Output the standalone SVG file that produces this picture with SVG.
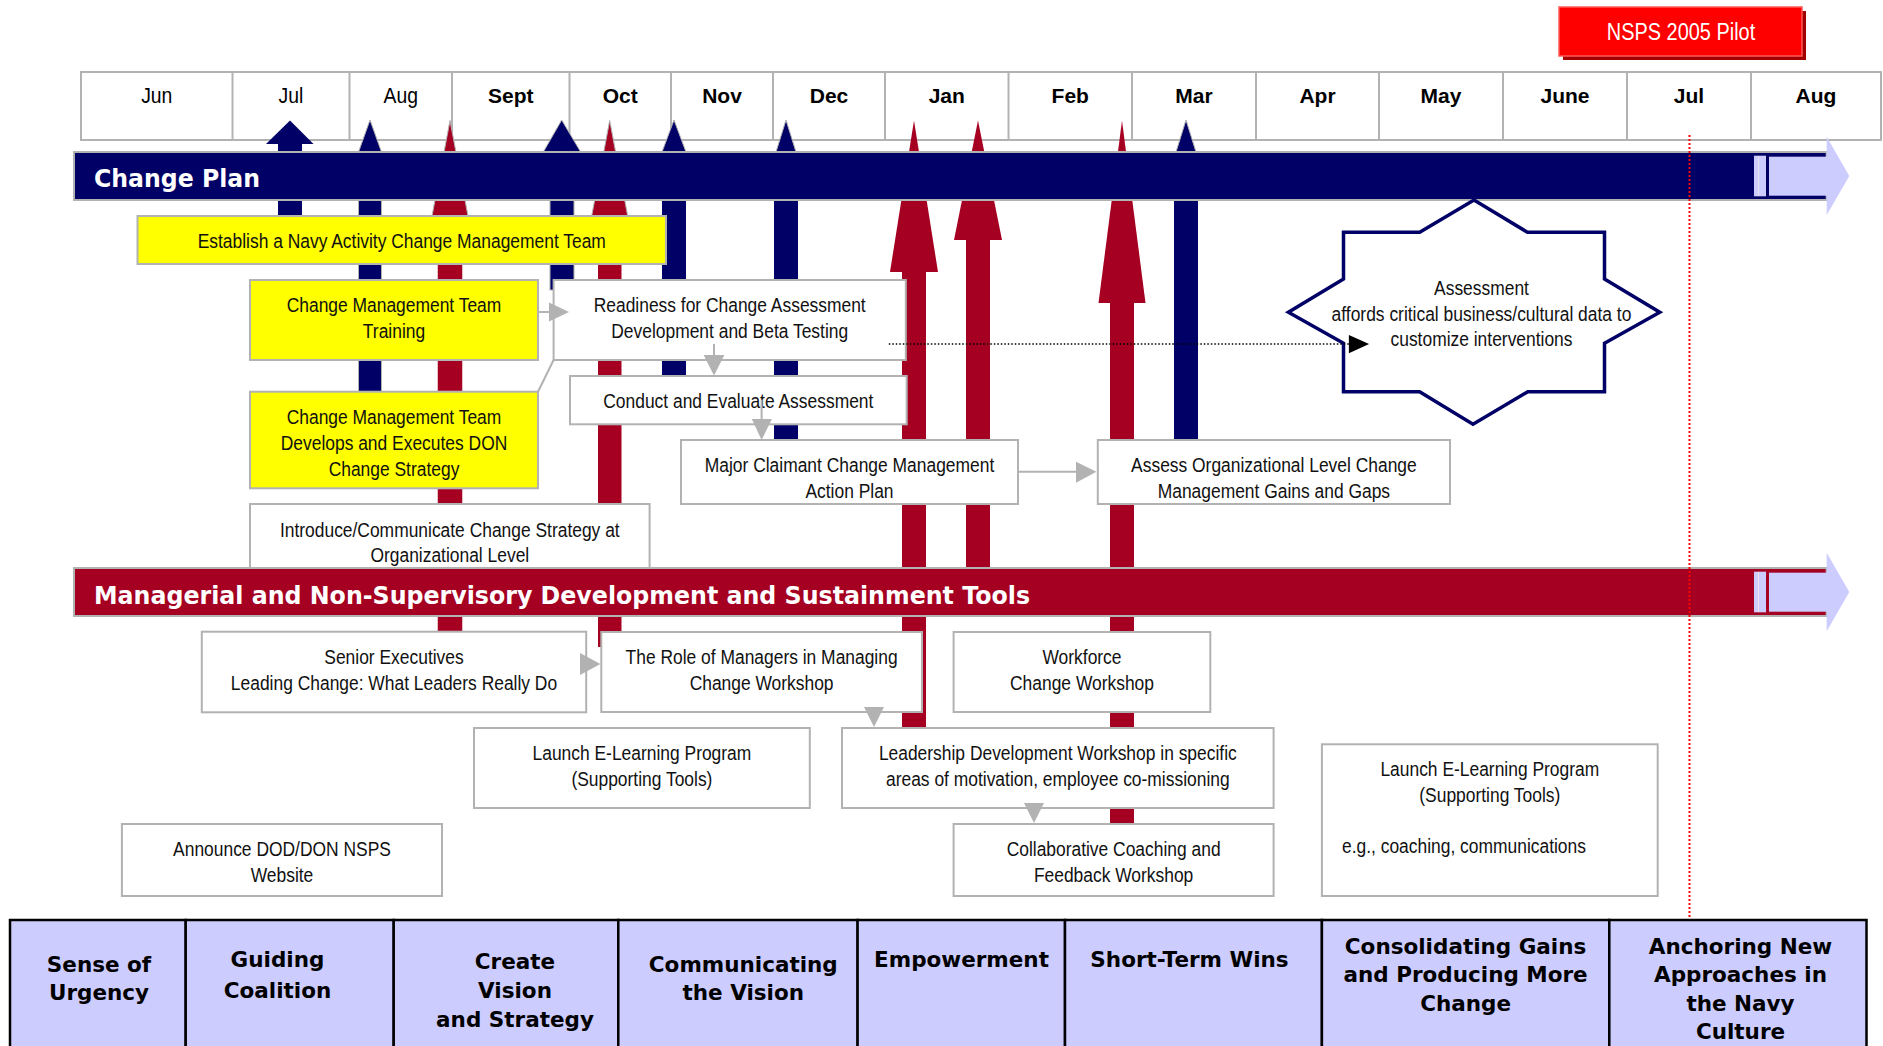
<svg xmlns="http://www.w3.org/2000/svg" width="1883" height="1046" viewBox="0 0 1883 1046">
<style>
.bg{fill:#FFFFFF}
.cell{fill:#FFFFFF;stroke:#B2B2B2;stroke-width:2}
.div{stroke:#B2B2B2;stroke-width:2}
.mo{font-family:"Liberation Sans",Arial,sans-serif;font-size:21px;fill:#000;text-anchor:middle}
.mob{font-weight:bold}
.navy{fill:#000066}
.navyo{fill:#000066;stroke:#B2B2B2;stroke-width:1}
.red{fill:#A50021}
.redo{fill:#A50021;stroke:#B2B2B2;stroke-width:1}
.lav{fill:#CCCCFF}
.bar{stroke:#B2B2B2;stroke-width:2}
.box{fill:#FFFFFF;stroke:#B2B2B2;stroke-width:2}
.ybox{fill:#FFFF00;stroke:#B2B2B2;stroke-width:2}
.n{font-family:"Liberation Sans Narrow","Liberation Sans",Arial,sans-serif;font-size:21px;fill:#111;text-anchor:middle}
.bt{font-family:"DejaVu Sans",Verdana,sans-serif;font-weight:bold;fill:#FFFFFF}
.tb{font-family:"DejaVu Sans",Verdana,sans-serif;font-weight:bold;font-size:21.5px;fill:#000;text-anchor:middle}
.tc{fill:#CCCCFF;stroke:#000;stroke-width:2.5}
.gl{stroke:#B2B2B2;stroke-width:2;fill:none}
.ga{fill:#B2B2B2}
</style>
<rect class="bg" x="0" y="0" width="1883" height="1046"/>

<g id="pilot">
<rect x="1563" y="11" width="243" height="49" fill="#A00000"/>
<rect x="1559" y="7" width="243" height="49" fill="#FF0000" stroke="#FF5A5A" stroke-width="1.5"/>
<text class="n" transform="translate(1681,0) scale(0.83,1)" x="0" y="40.5" style="font-size:24px;fill:#FFFFFF">NSPS 2005 Pilot</text>
</g>

<g id="timeline">
<rect class="cell" x="81" y="72" width="1800" height="68"/>
<line class="div" x1="232.5" y1="72" x2="232.5" y2="140"/>
<line class="div" x1="349.5" y1="72" x2="349.5" y2="140"/>
<line class="div" x1="452" y1="72" x2="452" y2="140"/>
<line class="div" x1="569.5" y1="72" x2="569.5" y2="140"/>
<line class="div" x1="671" y1="72" x2="671" y2="140"/>
<line class="div" x1="773" y1="72" x2="773" y2="140"/>
<line class="div" x1="885" y1="72" x2="885" y2="140"/>
<line class="div" x1="1008.5" y1="72" x2="1008.5" y2="140"/>
<line class="div" x1="1132" y1="72" x2="1132" y2="140"/>
<line class="div" x1="1256" y1="72" x2="1256" y2="140"/>
<line class="div" x1="1379" y1="72" x2="1379" y2="140"/>
<line class="div" x1="1503" y1="72" x2="1503" y2="140"/>
<line class="div" x1="1627" y1="72" x2="1627" y2="140"/>
<line class="div" x1="1751" y1="72" x2="1751" y2="140"/>
<text class="mo" transform="translate(156.75,0) scale(0.88,1)" x="0" y="103" style="font-size:22px">Jun</text>
<text class="mo" transform="translate(291,0) scale(0.88,1)" x="0" y="103" style="font-size:22px">Jul</text>
<text class="mo" transform="translate(400.75,0) scale(0.88,1)" x="0" y="103" style="font-size:22px">Aug</text>
<text class="mo mob" x="510.75" y="103">Sept</text>
<text class="mo mob" x="620.25" y="103">Oct</text>
<text class="mo mob" x="722" y="103">Nov</text>
<text class="mo mob" x="829" y="103">Dec</text>
<text class="mo mob" x="946.75" y="103">Jan</text>
<text class="mo mob" x="1070.25" y="103">Feb</text>
<text class="mo mob" x="1194" y="103">Mar</text>
<text class="mo mob" x="1317.5" y="103">Apr</text>
<text class="mo mob" x="1441" y="103">May</text>
<text class="mo mob" x="1565" y="103">June</text>
<text class="mo mob" x="1689" y="103">Jul</text>
<text class="mo mob" x="1816" y="103">Aug</text>
</g>

<g id="milestone-arrows">
<polygon class="navy" points="266,144 290,120.5 313.5,144"/>
<rect class="navy" x="278" y="144" width="24" height="86"/>
<polygon class="navyo" points="358.5,152 370,120 381.5,152"/>
<rect class="navyo" x="358.5" y="152" width="23" height="248"/>
<polygon class="navyo" points="543.3,152 561.7,120 580.7,152"/>
<rect class="navyo" x="550" y="152" width="24" height="138"/>
<polygon class="navyo" points="662,152 674,120 686,152"/>
<rect class="navy" x="662" y="152" width="24" height="233"/>
<polygon class="navyo" points="776,152 786,120 796,152"/>
<rect class="navy" x="774" y="152" width="24" height="298"/>
<polygon class="navyo" points="1176,152 1186,120 1196,152"/>
<rect class="navy" x="1174" y="152" width="24" height="298"/>
<polygon class="redo" points="432,216 450,120.5 468,216"/>
<rect class="red" x="437.75" y="215" width="24.5" height="425"/>
<polygon class="redo" points="591.7,216 609.7,120.5 627.7,216"/>
<rect class="red" x="598" y="215" width="23.5" height="432"/>
<polygon class="red" points="890,272 914,120.5 938,272"/>
<rect class="red" x="902" y="271" width="24" height="464"/>
<polygon class="red" points="954,240 978,120.5 1002,240"/>
<rect class="red" x="966" y="239" width="24" height="331"/>
<polygon class="red" points="1098.5,303 1122,120.5 1145.5,303"/>
<rect class="red" x="1110" y="302" width="24" height="528"/>
</g>

<g id="change-plan">
<rect class="navy bar" x="74" y="152" width="1752.7" height="48"/>
<rect class="lav" x="1754" y="155.7" width="4" height="40.6"/>
<rect fill="#FFFFFF" x="1758" y="155.7" width="0.9" height="40.6"/>
<rect class="lav" x="1758.9" y="155.7" width="7.1" height="40.6"/>
<rect class="lav" x="1769" y="156.7" width="58" height="39"/>
<polygon class="lav" points="1826.7,136.7 1849.3,176 1826.7,215"/>
<text class="bt" x="94" y="187" style="font-size:24px" textLength="166" lengthAdjust="spacingAndGlyphs">Change Plan</text>
</g>

<g id="managerial">
<rect class="red bar" x="74" y="568" width="1752.7" height="48"/>
<rect class="lav" x="1754" y="571.7" width="4" height="40.6"/>
<rect fill="#FFFFFF" x="1758" y="571.7" width="0.9" height="40.6"/>
<rect class="lav" x="1758.9" y="571.7" width="7.1" height="40.6"/>
<rect class="lav" x="1769" y="572.7" width="58" height="39"/>
<polygon class="lav" points="1826.7,552.7 1849.3,592 1826.7,631.3"/>
<text class="bt" x="94" y="603.5" style="font-size:24px" textLength="936" lengthAdjust="spacingAndGlyphs">Managerial and Non-Supervisory Development and Sustainment Tools</text>
</g>

<g id="n-establish">
<rect class="ybox" x="137.5" y="216" width="528.5" height="48"/>
<text class="n" transform="translate(401.75,0) scale(0.83,1)" x="0" y="248">Establish a Navy Activity Change Management Team</text>
</g>
<g id="n-training">
<rect class="ybox" x="250" y="280" width="288" height="80"/>
<text class="n" transform="translate(394,0) scale(0.83,1)" x="0" y="312">Change Management Team</text>
<text class="n" transform="translate(394,0) scale(0.83,1)" x="0" y="338">Training</text>
</g>
<g id="n-develops">
<rect class="ybox" x="250" y="391.7" width="288" height="96.6"/>
<text class="n" transform="translate(394,0) scale(0.83,1)" x="0" y="424">Change Management Team</text>
<text class="n" transform="translate(394,0) scale(0.83,1)" x="0" y="450.5">Develops and Executes DON</text>
<text class="n" transform="translate(394,0) scale(0.83,1)" x="0" y="476">Change Strategy</text>
</g>
<g id="n-introduce">
<rect class="box" x="250" y="504" width="399.6" height="64"/>
<text class="n" transform="translate(449.8,0) scale(0.83,1)" x="0" y="537">Introduce/Communicate Change Strategy at</text>
<text class="n" transform="translate(449.8,0) scale(0.83,1)" x="0" y="562">Organizational Level</text>
</g>
<g id="n-readiness">
<rect class="box" x="553.6" y="280" width="352.2" height="80"/>
<text class="n" transform="translate(729.7,0) scale(0.83,1)" x="0" y="312">Readiness for Change Assessment</text>
<text class="n" transform="translate(729.7,0) scale(0.83,1)" x="0" y="338">Development and Beta Testing</text>
</g>
<g id="n-conduct">
<rect class="box" x="570" y="376" width="336.7" height="48.3"/>
<text class="n" transform="translate(738.3,0) scale(0.83,1)" x="0" y="408">Conduct and Evaluate Assessment</text>
</g>
<g id="n-major">
<rect class="box" x="681" y="440" width="337" height="64"/>
<text class="n" transform="translate(849.5,0) scale(0.83,1)" x="0" y="472.5">Major Claimant Change Management</text>
<text class="n" transform="translate(849.5,0) scale(0.83,1)" x="0" y="498">Action Plan</text>
</g>
<g id="n-assess">
<rect class="box" x="1097.8" y="440" width="352.2" height="64"/>
<text class="n" transform="translate(1273.9,0) scale(0.83,1)" x="0" y="472.5">Assess Organizational Level Change</text>
<text class="n" transform="translate(1273.9,0) scale(0.83,1)" x="0" y="498">Management Gains and Gaps</text>
</g>
<g id="n-assessment-star">
<polygon points="1343.5,232.3 1419.7,232.3 1474,200 1527.5,232.3 1604.5,232.3 1604.5,279 1659.8,312.3 1604.5,343.3 1604.5,391.7 1527.8,391.7 1473,424.3 1419.6,391.7 1343.5,391.7 1343.5,343.3 1288.4,312.3 1343.5,279" fill="#FFFFFF" stroke="#000066" stroke-width="3.5" stroke-linejoin="miter"/>
<text class="n" transform="translate(1481.5,0) scale(0.83,1)" x="0" y="295">Assessment</text>
<text class="n" transform="translate(1481.5,0) scale(0.83,1)" x="0" y="321">affords critical business/cultural data to</text>
<text class="n" transform="translate(1481.5,0) scale(0.83,1)" x="0" y="346">customize interventions</text>
</g>
<g id="n-senior">
<rect class="box" x="201.8" y="631.7" width="384.4" height="80.6"/>
<text class="n" transform="translate(394,0) scale(0.83,1)" x="0" y="664">Senior Executives</text>
<text class="n" transform="translate(394,0) scale(0.83,1)" x="0" y="690">Leading Change: What Leaders Really Do</text>
</g>
<g id="n-role">
<rect class="box" x="601.3" y="632" width="320.7" height="80"/>
<text class="n" transform="translate(761.6,0) scale(0.83,1)" x="0" y="664">The Role of Managers in Managing</text>
<text class="n" transform="translate(761.6,0) scale(0.83,1)" x="0" y="690">Change Workshop</text>
</g>
<g id="n-workforce">
<rect class="box" x="953.6" y="632" width="256.7" height="80"/>
<text class="n" transform="translate(1082,0) scale(0.83,1)" x="0" y="664">Workforce</text>
<text class="n" transform="translate(1082,0) scale(0.83,1)" x="0" y="690">Change Workshop</text>
</g>
<g id="n-launch1">
<rect class="box" x="474" y="728" width="335.8" height="80"/>
<text class="n" transform="translate(641.9,0) scale(0.83,1)" x="0" y="760">Launch E-Learning Program</text>
<text class="n" transform="translate(641.9,0) scale(0.83,1)" x="0" y="786">(Supporting Tools)</text>
</g>
<g id="n-leadership">
<rect class="box" x="842" y="728" width="431.6" height="80"/>
<text class="n" transform="translate(1057.8,0) scale(0.83,1)" x="0" y="760">Leadership Development Workshop in specific</text>
<text class="n" transform="translate(1057.8,0) scale(0.83,1)" x="0" y="786">areas of motivation, employee co-missioning</text>
</g>
<g id="n-collab">
<rect class="box" x="953.6" y="824" width="320" height="72"/>
<text class="n" transform="translate(1113.6,0) scale(0.83,1)" x="0" y="856">Collaborative Coaching and</text>
<text class="n" transform="translate(1113.6,0) scale(0.83,1)" x="0" y="882">Feedback Workshop</text>
</g>
<g id="n-announce">
<rect class="box" x="121.9" y="824" width="320.1" height="72"/>
<text class="n" transform="translate(282,0) scale(0.83,1)" x="0" y="856">Announce DOD/DON NSPS</text>
<text class="n" transform="translate(282,0) scale(0.83,1)" x="0" y="882">Website</text>
</g>
<g id="n-launch2">
<rect class="box" x="1321.9" y="744.3" width="335.8" height="151.7"/>
<text class="n" transform="translate(1489.8,0) scale(0.83,1)" x="0" y="776">Launch E-Learning Program</text>
<text class="n" transform="translate(1489.8,0) scale(0.83,1)" x="0" y="802">(Supporting Tools)</text>
<text class="n" transform="translate(1342,0) scale(0.83,1)" x="0" y="853" style="text-anchor:start">e.g., coaching, communications</text>
</g>

<g id="connectors">
<line class="gl" x1="538" y1="312" x2="550" y2="312"/>
<polygon class="ga" points="549,302.5 569,312 549,321.5"/>
<line class="gl" x1="553.6" y1="360" x2="538" y2="391.7"/>
<line class="gl" x1="714" y1="344" x2="714" y2="356"/>
<polygon class="ga" points="703.6,355 714,375.5 724.4,355"/>
<line class="gl" x1="761.6" y1="400" x2="761.6" y2="420"/>
<polygon class="ga" points="751.8,419 761.6,440 771.9,419"/>
<line class="gl" x1="1018" y1="471.7" x2="1077" y2="471.7"/>
<polygon class="ga" points="1076,461.7 1096.4,471.7 1076,482.7"/>
<polygon class="ga" points="580,653 600.4,664 580,675"/>
<polygon class="ga" points="864,707 874,727 884,707"/>
<polygon class="ga" points="1024,803 1034,823 1044,803"/>
<line x1="888.8" y1="344" x2="1349" y2="344" stroke="#000" stroke-width="1.5" stroke-dasharray="1.5 2"/>
<polygon points="1348.9,335 1369.1,344 1348.9,353.3" fill="#000"/>
</g>

<g id="pilot-line">
<line x1="1689.5" y1="135" x2="1689.5" y2="918" stroke="#FF0000" stroke-width="2" stroke-dasharray="2 2"/>
</g>

<g id="kotter-stages">
<rect class="tc" x="10" y="920" width="175.7" height="140"/>
<rect class="tc" x="185.7" y="920" width="208" height="140"/>
<rect class="tc" x="393.7" y="920" width="224.6" height="140"/>
<rect class="tc" x="618.3" y="920" width="239.3" height="140"/>
<rect class="tc" x="857.6" y="920" width="207.4" height="140"/>
<rect class="tc" x="1065" y="920" width="256.9" height="140"/>
<rect class="tc" x="1321.9" y="920" width="287.4" height="140"/>
<rect class="tc" x="1609.3" y="920" width="257.2" height="140"/>
<text class="tb" x="99" y="971.5">Sense of</text>
<text class="tb" x="99" y="1000">Urgency</text>
<text class="tb" x="277.5" y="966.5">Guiding</text>
<text class="tb" x="277.5" y="998">Coalition</text>
<text class="tb" x="515" y="969.3">Create</text>
<text class="tb" x="515" y="998.3">Vision</text>
<text class="tb" x="515" y="1026.7">and Strategy</text>
<text class="tb" x="743.3" y="971.7">Communicating</text>
<text class="tb" x="743.3" y="1000">the Vision</text>
<text class="tb" x="961.5" y="966.7">Empowerment</text>
<text class="tb" x="1189.5" y="966.7">Short-Term Wins</text>
<text class="tb" x="1465.6" y="954">Consolidating Gains</text>
<text class="tb" x="1465.6" y="981.7">and Producing More</text>
<text class="tb" x="1465.6" y="1010.7">Change</text>
<text class="tb" x="1740.5" y="954">Anchoring New</text>
<text class="tb" x="1740.5" y="982.3">Approaches in</text>
<text class="tb" x="1740.5" y="1010.7">the Navy</text>
<text class="tb" x="1740.5" y="1039.3">Culture</text>
</g>
</svg>
